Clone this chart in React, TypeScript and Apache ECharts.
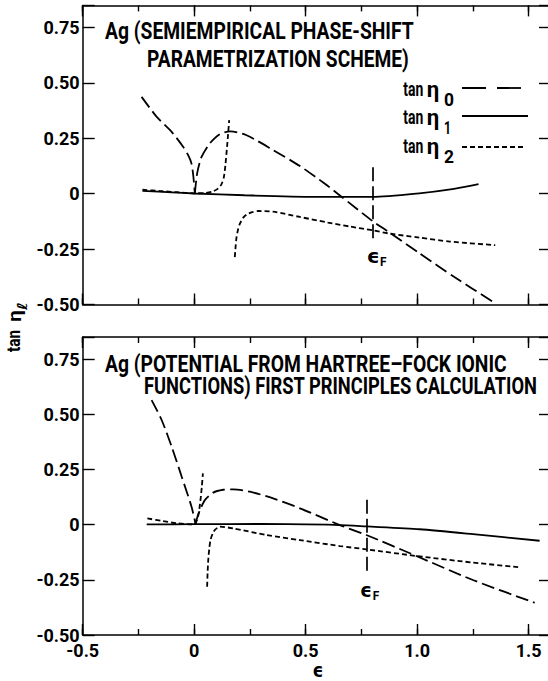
import React, { useEffect, useRef } from "react";
import * as echarts from "echarts";

type Pt = [number, number];

// ---------- tick labels ----------
const xTickValues = [-0.5, 0, 0.5, 1.0, 1.5];
const xTickLabels = ["-0.5", "0", "0.5", "1.0", "1.5"];
const yTickValues = [-0.5, -0.25, 0, 0.25, 0.5, 0.75];
const yTickLabels = ["-0.50", "-0.25", "0", "0.25", "0.50", "0.75"];

// ---------- texts ----------
const topTitle = ["Ag (SEMIEMPIRICAL PHASE-SHIFT", "PARAMETRIZATION SCHEME)"];
const bottomTitle = ["Ag (POTENTIAL FROM HARTREE–FOCK IONIC", "FUNCTIONS) FIRST PRINCIPLES CALCULATION"];
const legendSubs = ["0", "1", "2"];

// ---------- Fermi energy markers ----------
const fermiTop = 0.80;
const fermiTopRange = [0.12, -0.21];
const fermiBottom = 0.772;
const fermiBottomRange = [0.113, -0.229];

// ---------- top panel (semiempirical) ----------
const topEta0Left: Pt[] = [[-0.236, 0.437], [-0.168, 0.347], [-0.101, 0.279], [-0.049, 0.211], [-0.025, 0.17], [-0.012, 0.136], [-0.004, 0.08], [0.003, 0]];
const topEta0Right: Pt[] = [[0.003, 0], [0.013, 0.091], [0.033, 0.166], [0.07, 0.227], [0.115, 0.269], [0.163, 0.281], [0.235, 0.264], [0.354, 0.197], [0.474, 0.125], [0.586, 0.045], [0.656, -0.01], [0.802, -0.125], [0.868, -0.17], [1.009, -0.268], [1.165, -0.375], [1.337, -0.486]];
const topEta1: Pt[] = [[-0.232, 0.013], [-0.1, 0.006], [0, 0.001], [0.226, -0.007], [0.539, -0.014], [0.8, -0.014], [1.009, 0.002], [1.165, 0.022], [1.275, 0.043]];
const topEta2A: Pt[] = [[-0.232, 0.018], [-0.15, 0.012], [-0.08, 0.007], [0, 0.002], [0.05, 0.003], [0.08, 0.009], [0.105, 0.022], [0.122, 0.042], [0.133, 0.075], [0.14, 0.13], [0.148, 0.22], [0.157, 0.332]];
const topEta2B: Pt[] = [[0.182, -0.286], [0.186, -0.235], [0.19, -0.195], [0.197, -0.16], [0.205, -0.135], [0.22, -0.108], [0.235, -0.094], [0.26, -0.083], [0.29, -0.078], [0.354, -0.081], [0.474, -0.105], [0.6, -0.13], [0.698, -0.148], [0.8, -0.165], [0.877, -0.18], [1.009, -0.198], [1.146, -0.216], [1.35, -0.232]];

// ---------- bottom panel (first principles) ----------
const botEta0Left: Pt[] = [[-0.191, 0.564], [-0.146, 0.474], [-0.101, 0.353], [-0.056, 0.217], [-0.012, 0.081], [0.006, 0.004]];
const botEta0Right: Pt[] = [[0.006, 0.004], [0.016, 0.04], [0.026, 0.066], [0.048, 0.111], [0.085, 0.145], [0.13, 0.158], [0.175, 0.16], [0.25, 0.149], [0.354, 0.119], [0.474, 0.074], [0.653, -0.002], [0.772, -0.047], [0.996, -0.142], [1.25, -0.251], [1.527, -0.354]];
const botEta1: Pt[] = [[-0.213, 0.001], [0, 0.002], [0.3, 0.003], [0.653, -0.002], [0.772, -0.008], [1.011, -0.021], [1.25, -0.043], [1.549, -0.073]];
const botEta2A: Pt[] = [[-0.21, 0.028], [-0.14, 0.016], [-0.079, 0.006], [0, 0.001], [0.012, 0.02], [0.02, 0.05], [0.028, 0.11], [0.034, 0.17], [0.039, 0.232]];
const botEta2B: Pt[] = [[0.058, -0.281], [0.06, -0.22], [0.063, -0.16], [0.068, -0.105], [0.073, -0.07], [0.083, -0.04], [0.093, -0.024], [0.115, -0.009], [0.175, -0.017], [0.324, -0.047], [0.474, -0.07], [0.653, -0.097], [0.772, -0.112], [0.996, -0.142], [1.25, -0.172], [1.459, -0.193]];

const X_MIN = -0.5;
const X_MAX = 1.6;
const Y_MIN = -0.5;
const Y_MAX = 0.85;

const FONT_FAMILY = "Roboto, 'DejaVu Sans', sans-serif";
const LONG_DASH = [13, 5];
const SHORT_DASH = [5, 3];

function pickLabel(v: number, vals: number[], labels: string[]) {
  for (let i = 0; i < vals.length; i++) if (Math.abs(v - vals[i]) < 1e-9) return labels[i];
  return "";
}

let ctx: CanvasRenderingContext2D | null = null;
function measure(text: string, font: string) {
  if (!ctx) ctx = document.createElement("canvas").getContext("2d");
  if (!ctx) return text.length * 10;
  ctx.font = font;
  return ctx.measureText(text).width;
}

function txt(text: string, left: number, midY: number, font: string, targetW?: number): any {
  const w = measure(text, font);
  const s = targetW ? targetW / w : 1;
  return {
    type: "text",
    x: left,
    y: midY,
    scaleX: s,
    silent: true,
    style: {
      text,
      font,
      fill: "#000",
      textAlign: "left",
      textVerticalAlign: "middle",
      align: "left",
      verticalAlign: "middle",
    },
  };
}

function hline(x1: number, x2: number, y: number, dash: any): any {
  return {
    type: "line",
    silent: true,
    shape: { x1, y1: y, x2, y2: y },
    style: { stroke: "#000", lineWidth: 1.8, lineDash: dash },
  };
}

export default function App() {
  const ref = useRef<HTMLDivElement>(null);

  useEffect(() => {
    if (!ref.current) return;
    const chart = echarts.init(ref.current, undefined, { renderer: "svg" });

    const gridLeft = 82.7;
    const gridRightEdge = 551;
    const grids = [
      { left: gridLeft, top: 5.4, width: gridRightEdge - gridLeft, height: 299.1 },
      { left: gridLeft, top: 337, width: gridRightEdge - gridLeft, height: 298 },
    ];

    const labelStyle = { fontSize: 18, lineHeight: 14, fontFamily: FONT_FAMILY, fontWeight: "bold" as const, color: "#000" };

    const xAxes: any[] = [];
    const yAxes: any[] = [];
    [0, 1].forEach((g) => {
      (["bottom", "top"] as const).forEach((pos) => {
        xAxes.push({
          type: "value",
          gridIndex: g,
          position: pos,
          min: X_MIN,
          max: X_MAX,
          interval: 0.5,
          axisLine: { show: true, onZero: false, lineStyle: { color: "#000", width: 1.5 } },
          axisTick: { show: true, inside: true, length: 11, lineStyle: { color: "#000", width: 1.4 } },
          axisLabel: {
            show: g === 1 && pos === "bottom",
            margin: 8,
            ...labelStyle,
            formatter: (v: number) => pickLabel(v, xTickValues, xTickLabels),
          },
          splitLine: { show: false },
        });
        xAxes.push({
          type: "value",
          gridIndex: g,
          position: pos,
          min: X_MIN,
          max: X_MAX,
          interval: 0.25,
          axisLine: { show: false, onZero: false },
          axisTick: { show: true, inside: true, length: 6, lineStyle: { color: "#000", width: 1.4 } },
          axisLabel: { show: false },
          splitLine: { show: false },
        });
      });
      (["left", "right"] as const).forEach((pos) => {
        yAxes.push({
          type: "value",
          gridIndex: g,
          position: pos,
          min: Y_MIN,
          max: Y_MAX,
          interval: 0.25,
          axisLine: { show: true, onZero: false, lineStyle: { color: "#000", width: 1.5 } },
          axisTick: { show: true, inside: true, length: 12, lineStyle: { color: "#000", width: 1.4 } },
          axisLabel: {
            show: pos === "left",
            margin: 3,
            ...labelStyle,
            formatter: (v: number) => pickLabel(v, yTickValues, yTickLabels),
          },
          splitLine: { show: false },
        });
      });
    });

    const line = (data: Pt[], g: number, dash: any, extra: any = {}) => ({
      type: "line",
      xAxisIndex: g === 0 ? 0 : 4,
      yAxisIndex: g === 0 ? 0 : 2,
      data,
      symbol: "none",
      showSymbol: false,
      smooth: 0.25,
      silent: true,
      lineStyle: { color: "#000", width: 1.8, type: dash },
      z: 3,
      ...extra,
    });

    const fermiMark = (x: number, r: number[]) => ({
      silent: true,
      symbol: ["none", "none"],
      label: { show: false },
      lineStyle: { color: "#000", width: 1.7, type: [14, 5] },
      data: [[{ coord: [x, r[0]] }, { coord: [x, r[1]] }]],
    });

    const series: any[] = [
      line(topEta0Left, 0, LONG_DASH),
      line(topEta0Right, 0, LONG_DASH),
      line(topEta1, 0, "solid", { markLine: fermiMark(fermiTop, fermiTopRange) }),
      line(topEta2A, 0, SHORT_DASH),
      line(topEta2B, 0, SHORT_DASH),
      line(botEta0Left, 1, LONG_DASH),
      line(botEta0Right, 1, LONG_DASH),
      line(botEta1, 1, "solid", { markLine: fermiMark(fermiBottom, fermiBottomRange) }),
      line(botEta2A, 1, SHORT_DASH),
      line(botEta2B, 1, SHORT_DASH),
    ];

    const titleFont = `bold 24px ${FONT_FAMILY}`;
    const legFont = `bold 21px ${FONT_FAMILY}`;
    const etaFont = `bold 22px ${FONT_FAMILY}`;
    const subFont = `bold 18px ${FONT_FAMILY}`;
    const epsFont = `bold 20px 'DejaVu Sans', sans-serif`;
    const epsSubFont = `bold 13px ${FONT_FAMILY}`;

    const graphic: any[] = [
      txt(topTitle[0], 105, 31, titleFont, 309),
      txt(topTitle[1], 147, 59, titleFont, 262),
      txt(bottomTitle[0], 105, 363.5, titleFont, 402),
      txt(bottomTitle[1], 144, 386, titleFont, 394),
    ];

    // legend (top panel)
    const rowY = [88, 116, 145];
    const legDash = [[24, 11], null, SHORT_DASH];
    const legEnd = [527, 528, 523];
    const subW = [10, 7, 10];
    rowY.forEach((y, i) => {
      graphic.push(txt("tan", 403.3, y, legFont, 20));
      graphic.push(txt("η", 426.7, y + 2, etaFont, 12.5));
      graphic.push(txt(legendSubs[i], 444, y + 12, subFont, subW[i]));
      graphic.push(hline(462, legEnd[i], i === 2 ? y + 2 : y, legDash[i]));
    });

    // Fermi labels
    graphic.push(txt("ϵ", 366.7, 256, epsFont, 13));
    graphic.push(txt("F", 380, 261, epsSubFont, 6.5));
    graphic.push(txt("ϵ", 360, 590, epsFont, 12));
    graphic.push(txt("F", 372.7, 595, epsSubFont, 6.5));

    // x-axis name
    graphic.push(txt("ϵ", 312.5, 670, epsFont, 11));

    // y-axis name (rotated)
    const yNameFont = `bold 18px ${FONT_FAMILY}`;
    const tanT = txt("tan", 0, -4, yNameFont, 22);
    const etaT = txt("η", 30, -3, yNameFont, 12);
    const ellT = txt("ℓ", 42, 4, `bold 14px 'DejaVu Sans', sans-serif`, 8);
    graphic.push({
      type: "group",
      x: 18,
      y: 352,
      rotation: Math.PI / 2,
      silent: true,
      children: [tanT, etaT, ellT],
    });

    chart.setOption({
      animation: false,
      backgroundColor: "#fff",
      grid: grids,
      xAxis: xAxes,
      yAxis: yAxes,
      series,
      graphic,
    });

    return () => chart.dispose();
  }, []);

  return (
    <div style={{ position: "absolute", left: 0, top: 0, width: 548, height: 681, overflow: "hidden", background: "#fff" }}>
      <div ref={ref} style={{ width: 560, height: 681 }} />
    </div>
  );
}
